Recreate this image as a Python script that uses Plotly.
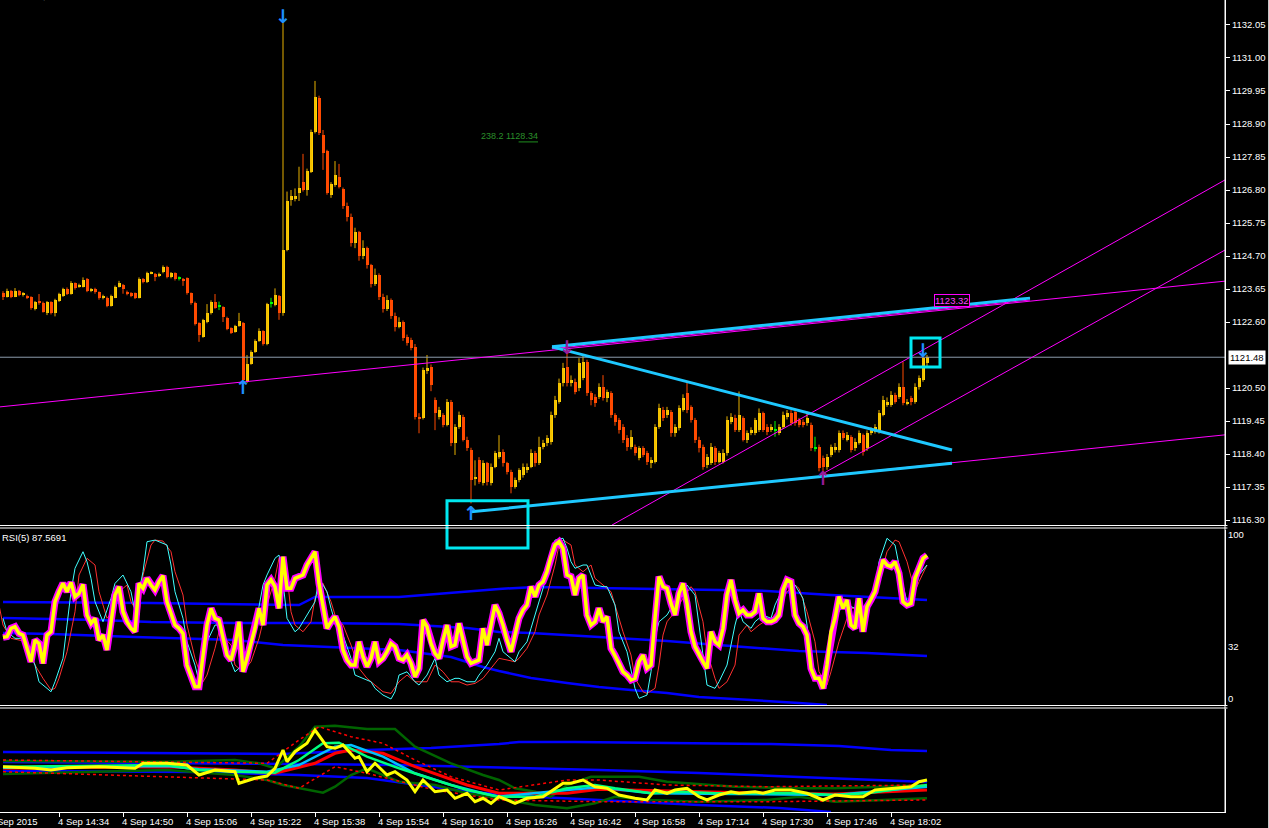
import plotly.graph_objects as go

# ---------------- price data (GOLD M1, bar index 0 = 14:20) ----------------
opens = [1123.51,1123.41,1123.59,1123.41,1123.59,1123.46,1123.44,1123.39,1123.02,1123.28,
 1123.22,1122.88,1123.23,1122.90,1123.28,1123.43,1123.65,1123.49,1123.83,1123.73,
 1123.72,1123.97,1123.60,1123.65,1123.54,1123.35,1123.38,1123.12,1123.38,1123.72,
 1123.78,1123.57,1123.51,1123.51,1123.38,1123.97,1123.86,1124.15,1124.13,1124.06,
 1124.20,1124.36,1124.02,1124.15,1123.97,1123.97,1123.99,1123.51,1123.22,1122.56,
 1122.13,1122.61,1122.88,1123.25,1123.09,1123.07,1122.74,1122.40,1122.29,1122.48,
 1122.56,1120.70,1121.28,1121.66,1122.01,1122.31,1121.90,1123.19,1123.14,1123.43,
 1122.88,1124.90,1126.48,1126.50,1126.69,1127.07,1126.80,1127.38,1128.66,1129.72,
 1128.55,1128.04,1126.64,1126.96,1127.20,1126.83,1126.30,1125.95,1125.10,1125.45,
 1124.70,1124.95,1124.40,1123.80,1124.10,1123.40,1123.00,1123.30,1122.80,1122.45,
 1122.60,1122.13,1122.03,1121.82,1119.59,1119.54,1121.07,1121.18,1120.12,1119.59,
 1119.64,1119.32,1120.07,1118.74,1119.27,1119.59,1118.85,1118.53,1117.63,1118.21,
 1117.47,1118.10,1117.47,1118.00,1118.32,1118.48,1118.10,1117.84,1117.36,1117.57,
 1117.73,1117.89,1118.00,1118.42,1118.10,1118.63,1118.74,1118.79,1119.64,1120.07,
 1120.65,1121.18,1120.65,1120.70,1120.49,1120.81,1121.34,1120.33,1120.23,1120.23,
 1120.54,1120.17,1120.33,1119.64,1119.48,1119.27,1118.90,1118.63,1118.63,1118.26,
 1118.58,1118.42,1118.10,1118.16,1119.27,1119.80,1119.64,1119.75,1119.06,1119.22,
 1119.80,1120.33,1119.91,1119.48,1118.85,1118.63,1118.05,1118.10,1118.58,1118.16,
 1118.16,1118.42,1119.43,1119.54,1119.16,1119.54,1118.85,1119.06,1119.06,1119.16,
 1119.70,1119.27,1119.16,1119.16,1119.06,1119.27,1119.59,1119.70,1119.75,1119.48,
 1119.43,1119.38,1119.32,1118.58,1118.63,1118.26,1118.00,1118.37,1118.53,1118.53,
 1119.06,1118.85,1118.95,1118.58,1118.74,1119.00,1118.58,1119.06,1119.11,1119.11,
 1119.64,1119.96,1119.96,1120.28,1120.23,1120.54,1120.01,1120.17,1120.07,1120.54,
 1120.76,1121.29]
closes = [1123.41,1123.59,1123.41,1123.59,1123.46,1123.48,1123.37,1123.04,1123.23,1123.19,
 1122.93,1123.23,1122.88,1123.30,1123.49,1123.64,1123.49,1123.83,1123.67,1123.77,
 1123.94,1123.60,1123.61,1123.54,1123.35,1123.43,1123.12,1123.43,1123.72,1123.83,
 1123.64,1123.49,1123.43,1123.37,1123.97,1123.86,1124.15,1124.17,1124.02,1124.13,
 1124.36,1124.02,1124.15,1123.96,1123.97,1123.92,1123.51,1123.22,1122.53,1122.19,
 1122.66,1122.88,1123.25,1123.06,1123.09,1122.77,1122.38,1122.26,1122.47,1122.63,
 1120.76,1121.28,1121.66,1122.01,1122.31,1121.89,1123.17,1123.19,1123.46,1122.88,
 1124.90,1126.45,1126.61,1126.61,1126.85,1126.80,1127.42,1128.66,1129.77,1128.60,
 1127.97,1126.72,1126.99,1127.28,1126.91,1126.30,1125.95,1125.10,1125.45,1124.70,
 1124.95,1124.40,1123.80,1124.10,1123.40,1123.00,1123.30,1122.80,1122.45,1122.60,
 1122.08,1121.92,1121.76,1119.59,1119.54,1121.07,1121.13,1120.60,1119.70,1119.80,
 1119.32,1120.07,1118.74,1119.27,1119.64,1118.85,1118.58,1117.57,1117.68,1117.52,
 1118.10,1117.52,1118.00,1118.42,1118.48,1118.10,1117.84,1117.36,1117.57,1117.89,
 1118.00,1118.00,1118.42,1118.10,1118.63,1118.74,1118.90,1119.64,1120.12,1120.65,
 1121.13,1120.65,1120.76,1120.38,1121.29,1121.34,1120.33,1120.12,1120.01,1120.54,
 1120.17,1120.38,1119.64,1119.43,1119.16,1118.85,1118.63,1118.95,1118.42,1118.58,
 1118.37,1118.16,1118.21,1119.27,1119.85,1119.54,1119.80,1119.06,1119.27,1119.85,
 1120.17,1119.80,1119.48,1118.85,1118.58,1118.00,1118.32,1118.63,1118.16,1118.42,
 1118.42,1119.48,1119.59,1119.16,1119.64,1118.85,1119.06,1119.16,1119.48,1119.70,
 1119.16,1119.11,1119.27,1119.16,1119.27,1119.64,1119.70,1119.38,1119.38,1119.32,
 1119.32,1119.54,1118.58,1118.58,1117.94,1118.00,1118.32,1118.63,1118.63,1119.06,
 1118.90,1119.00,1118.53,1118.79,1119.06,1118.47,1119.06,1119.16,1119.27,1119.70,
 1120.12,1120.07,1120.28,1120.07,1120.54,1120.01,1120.07,1120.07,1120.54,1120.81,
 1121.44,1121.48]
highs = [1123.58,1123.66,1123.62,1123.68,1123.62,1123.55,1123.47,1123.42,1123.27,1123.49,
 1123.25,1123.27,1123.26,1123.34,1123.53,1123.69,1123.70,1123.90,1123.86,1123.82,
 1124.02,1124.00,1123.68,1123.69,1123.57,1123.47,1123.41,1123.47,1123.76,1123.91,
 1123.81,1123.60,1123.55,1123.54,1124.02,1124.00,1124.20,1124.21,1124.16,1124.17,
 1124.40,1124.39,1124.19,1124.18,1124.05,1124.00,1124.02,1123.54,1123.25,1122.59,
 1122.70,1123.17,1123.29,1123.49,1123.25,1123.10,1122.77,1122.43,1122.51,1122.89,
 1122.60,1121.55,1121.70,1122.05,1122.40,1122.34,1123.21,1123.37,1123.67,1123.46,
 1132.15,1126.75,1126.80,1126.85,1127.54,1127.95,1127.48,1128.72,1130.27,1129.80,
 1128.71,1128.08,1127.05,1127.72,1127.63,1126.88,1126.40,1126.05,1125.60,1125.50,
 1125.20,1125.00,1124.45,1124.30,1124.15,1123.50,1123.45,1123.35,1122.90,1122.75,
 1122.65,1122.20,1122.10,1121.90,1119.70,1121.15,1121.55,1121.25,1120.20,1119.90,
 1119.70,1120.15,1120.12,1119.35,1119.75,1119.65,1118.95,1118.60,1118.20,1118.30,
 1118.20,1118.15,1118.10,1118.50,1119.00,1118.55,1118.15,1117.90,1117.65,1117.95,
 1118.10,1118.10,1118.55,1118.50,1118.95,1118.85,1119.00,1119.75,1120.25,1120.80,
 1121.30,1121.81,1120.90,1120.80,1121.45,1121.55,1121.40,1120.40,1120.30,1120.65,
 1120.91,1120.45,1120.40,1119.70,1119.55,1119.35,1119.00,1119.16,1118.70,1118.65,
 1118.65,1118.50,1118.30,1119.35,1120.00,1119.90,1119.90,1119.80,1119.35,1119.95,
 1120.30,1120.70,1119.95,1119.55,1118.95,1118.70,1118.40,1118.75,1118.65,1118.50,
 1118.55,1119.60,1119.70,1119.65,1120.39,1119.60,1119.15,1119.25,1119.55,1119.85,
 1119.75,1119.35,1119.35,1119.45,1119.35,1119.75,1119.80,1119.80,1119.80,1119.55,
 1119.50,1119.75,1119.40,1118.95,1118.70,1118.35,1118.40,1118.70,1118.75,1119.15,
 1119.15,1119.10,1119.00,1118.90,1119.15,1119.05,1119.15,1119.25,1119.35,1119.80,
 1120.25,1120.20,1120.40,1120.35,1120.65,1121.34,1120.15,1120.25,1120.65,1120.90,
 1121.71,1121.55]
lows = [1123.30,1123.38,1123.36,1123.39,1123.42,1123.41,1123.33,1122.99,1122.97,1123.15,
 1122.90,1122.82,1122.84,1122.78,1123.24,1123.40,1123.46,1123.47,1123.63,1123.69,
 1123.70,1123.55,1123.55,1123.50,1123.31,1123.32,1123.07,1123.09,1123.36,1123.70,
 1123.50,1123.45,1123.39,1123.33,1123.35,1123.83,1123.84,1124.12,1123.90,1124.03,
 1124.15,1123.99,1123.99,1123.92,1123.92,1123.75,1123.47,1123.15,1122.49,1121.97,
 1122.10,1122.56,1122.84,1123.02,1122.98,1122.60,1122.34,1122.22,1122.26,1122.45,
 1120.62,1120.66,1121.24,1121.62,1121.97,1121.85,1121.86,1123.06,1123.10,1122.67,
 1122.80,1124.85,1126.30,1126.44,1126.45,1126.75,1126.62,1127.34,1128.60,1128.55,
 1127.44,1126.65,1126.55,1126.90,1126.85,1126.20,1125.80,1125.00,1124.95,1124.55,
 1124.60,1124.30,1123.70,1123.75,1123.30,1122.90,1122.95,1122.70,1122.30,1122.40,
 1122.00,1121.85,1121.70,1119.50,1119.06,1119.50,1120.95,1120.40,1119.16,1119.50,
 1119.25,1119.28,1118.65,1118.37,1119.20,1118.80,1118.50,1116.83,1117.40,1117.45,
 1117.40,1117.40,1117.40,1117.95,1118.25,1118.00,1117.75,1117.15,1117.30,1117.50,
 1117.65,1117.80,1117.95,1118.00,1118.05,1118.55,1118.65,1118.70,1119.55,1120.00,
 1120.55,1120.55,1120.55,1120.30,1120.40,1120.75,1120.25,1119.95,1119.90,1120.15,
 1120.10,1120.05,1119.55,1119.30,1119.05,1118.75,1118.50,1118.55,1118.35,1118.20,
 1118.30,1118.05,1117.95,1118.10,1119.20,1119.45,1119.55,1118.95,1118.95,1119.15,
 1119.75,1119.70,1119.40,1118.75,1118.45,1117.90,1117.95,1118.05,1118.05,1118.10,
 1118.10,1118.35,1119.35,1119.10,1119.10,1118.80,1118.75,1119.00,1119.00,1119.10,
 1119.10,1119.00,1119.10,1118.95,1119.00,1119.20,1119.50,1119.30,1119.30,1119.25,
 1119.25,1119.30,1118.50,1118.48,1117.85,1117.68,1117.90,1118.30,1118.45,1118.45,
 1118.85,1118.80,1118.45,1118.50,1118.70,1118.35,1118.50,1119.00,1119.05,1119.05,
 1119.60,1119.90,1119.90,1120.00,1120.15,1119.95,1119.95,1119.95,1120.00,1120.45,
 1120.70,1121.20]

# time axis labels (bar index of each label)
tick_idx = [14, 30, 46, 62, 78, 94, 110, 126, 142, 158, 174, 190, 206, 222]
tick_txt = ["4 Sep 14:34", "4 Sep 14:50", "4 Sep 15:06", "4 Sep 15:22", "4 Sep 15:38",
            "4 Sep 15:54", "4 Sep 16:10", "4 Sep 16:26", "4 Sep 16:42", "4 Sep 16:58",
            "4 Sep 17:14", "4 Sep 17:30", "4 Sep 17:46", "4 Sep 18:02"]
price_ticks = [1132.05, 1131.00, 1129.95, 1128.90, 1127.85, 1126.80, 1125.75, 1124.70,
               1123.65, 1122.60, 1120.50, 1119.45, 1118.40, 1117.35, 1116.30]
last_price = 1121.48

# trend lines: (bar0, price0, bar1, price1)
magenta_long = [-0.75, 1119.90, 305.5, 1123.90]
magenta_low = [117.0, 1116.56, 305.5, 1119.01]
magenta_up = [137.25, 1121.75, 256.75, 1123.30]
magenta_steep_a = [152.25, 1116.14, 305.5, 1127.12]
magenta_steep_b = [204.75, 1117.76, 305.5, 1124.89]
cyan_up = [137.25, 1121.81, 256.75, 1123.36]
cyan_down = [137.25, 1121.81, 237.25, 1118.53]
cyan_low = [117.0, 1116.56, 237.25, 1118.11]
box1 = [111.0, 1116.91, 131.25, 1115.41]
box2 = [227.0, 1122.09, 234.25, 1121.17]

# arrows: (bar, price)
blue_down = [(70, 1132.33), (230, 1121.71)]
blue_up = [(60, 1120.53), (117, 1116.52)]
purple_down = [(141, 1121.81)]
purple_up = [(205, 1117.64)]

# ---------------- RSI(5) window ----------------
rsi_yellow = [37.6,38.0,43.1,44.1,40.0,39.0,30.9,22.7,36.0,33.9,21.7,39.0,41.0,59.3,65.4,70.5,65.4,71.1,62.4,64.4,
 69.9,51.2,46.1,49.2,35.9,39.0,29.9,45.1,63.4,68.5,53.2,47.1,43.1,41.0,70.5,67.5,73.6,69.5,66.5,71.5,
 75.2,59.3,52.2,45.1,43.1,40.0,20.7,13.6,7.5,7.5,26.8,45.1,55.3,49.2,48.2,38.0,26.8,23.8,32.9,47.1,
 16.6,24.8,33.9,43.1,55.3,45.1,69.5,72.6,68.5,55.3,86.8,67.5,67.5,73.6,74.6,75.6,81.7,85.8,89.8,70.5,
 57.3,43.1,47.1,50.2,44.1,29.9,23.8,20.7,20.7,34.9,25.8,19.7,24.8,34.9,22.7,24.8,28.8,33.9,31.9,24.8,
 23.8,26.8,21.7,13.6,18.7,48.2,44.1,33.9,27.8,24.8,35.9,45.1,31.9,32.9,46.1,35.9,25.8,21.7,22.7,23.8,
 43.1,32.9,45.1,57.3,52.2,45.1,35.9,28.8,39.0,49.2,54.3,57.3,68.5,62.4,69.5,71.5,77.6,86.8,93.9,95.9,
 91.9,75.6,74.6,63.4,73.6,75.6,51.2,45.1,47.1,55.3,47.1,50.2,30.9,26.8,21.7,16.6,14.6,11.6,12.6,22.7,
 26.8,18.7,20.7,49.2,74.6,68.5,67.5,58.3,51.2,64.4,70.5,58.3,41.0,31.9,26.8,22.7,18.7,41.0,34.9,32.9,
 43.1,63.4,72.6,60.4,52.2,54.3,51.2,51.2,53.2,64.4,49.2,47.1,47.1,48.2,51.2,66.5,72.6,71.5,51.2,46.1,
 44.1,39.0,18.7,12.6,12.6,6.5,20.7,41.0,49.2,62.4,55.3,60.4,45.1,43.1,61.4,41.0,56.3,60.4,65.4,75.6,
 84.8,81.7,80.7,83.7,76.6,59.3,57.3,58.3,73.6,79.7,85.8,87.57]

rsi_cyan_idx = [0,1,3,5,8,9,11,12,13,15,16,17,18,20,21,22,23,25,27,28,30,32,33,35,36,38,39,41,42,43,
 45,46,48,49,50,51,53,54,56,58,59,61,63,65,66,68,69,70,71,73,74,76,78,79,81,82,83,85,87,88,
 90,92,93,95,97,98,99,101,103,104,106,108,109,111,113,114,116,118,119,121,123,124,125,127,128,129,131,132,133,134,
 136,137,138,140,141,142,143,145,146,147,148,150,151,153,154,156,157,158,159,161,162,163,164,166,167,168,170,171,173,174,
 175,176,178,179,181,183,184,185,187,188,190,192,193,195,197,198,200,201,202,203,205,206,207,208,210,211,213,215,216,218,
 219,221,222,223,225,226,228,229,231]
rsi_cyan = [49.2,41.0,37.0,37.0,20.7,10.5,6.5,4.4,10.5,24.8,45.1,65.4,79.7,89.8,83.7,73.6,59.3,47.1,61.4,70.5,
 75.6,65.4,53.2,77.6,95.9,96.9,95.9,93.9,81.7,65.4,49.2,34.9,20.7,10.5,16.6,34.9,45.1,45.1,28.8,16.6,
 18.7,28.8,43.1,69.5,75.6,85.8,87.8,71.5,49.2,41.0,43.1,51.2,59.3,73.6,65.4,55.3,47.1,39.0,24.8,14.6,
 12.6,10.5,6.5,2.4,0.0,4.4,14.6,16.6,10.5,8.5,14.6,24.8,14.6,10.5,12.6,12.6,10.5,10.5,14.6,20.7,28.8,37.0,28.8,24.8,22.7,28.8,34.9,43.1,51.2,59.3,
 75.6,89.8,96.9,98.0,91.9,83.7,79.7,81.7,81.7,75.6,69.5,68.5,68.5,57.3,41.0,28.8,16.6,6.5,0.4,2.4,16.6,37.0,47.1,51.2,55.3,57.3,65.4,69.5,63.4,45.1,
 24.8,8.5,6.5,10.5,20.7,45.1,54.3,47.1,43.1,47.1,51.2,49.2,57.3,67.5,70.5,69.5,61.4,45.1,24.8,12.6,8.5,20.7,37.0,49.2,57.3,57.3,55.3,55.3,57.3,67.5,
 83.7,98.0,95.9,93.9,69.5,59.3,65.4,75.6,81.7]

rsi_red_idx = [-1,0,2,6,8,10,12,13,14,16,18,19,21,23,24,26,27,29,31,32,34,35,37,38,40,42,43,45,46,48,
 50,51,53,54,57,58,60,62,64,66,68,69,71,72,73,75,77,78,80,82,83,85,87,89,91,93,95,97,99,101,
 103,106,108,110,112,114,116,118,120,122,124,126,128,129,131,133,134,136,138,139,140,142,143,145,147,148,150,152,153,155,
 157,158,160,161,163,164,165,166,168,170,172,173,175,176,178,179,181,183,184,186,187,189,191,192,194,196,198,199,201,203,
 204,206,207,209,211,212,214,216,217,219,221,223,224,226,228,229,231]
rsi_red = [57.3,45.1,37.0,34.9,20.7,12.6,5.5,6.5,12.6,28.8,53.2,75.6,85.8,81.7,65.4,49.2,52.2,65.4,69.5,59.3,
 51.2,75.6,93.9,96.9,96.3,89.8,77.6,63.4,45.1,24.8,10.5,14.6,30.9,41.0,32.9,20.7,16.6,22.7,37.0,57.3,
 73.6,85.8,75.6,53.2,45.1,41.0,47.1,61.4,70.5,59.3,51.2,45.1,32.9,18.7,12.6,8.5,4.4,3.4,10.5,14.6,
 10.5,10.5,20.7,16.6,10.5,10.5,8.5,9.5,12.6,18.7,24.8,23.8,22.7,24.8,30.9,41.0,51.2,63.4,81.7,93.9,96.9,93.9,81.7,77.6,81.7,73.6,69.5,65.4,57.3,41.0,
 26.8,12.6,4.4,3.4,6.5,20.7,39.0,47.1,53.2,61.4,68.5,65.4,47.1,28.8,12.6,6.5,10.5,20.7,39.0,45.1,41.0,45.1,48.2,48.2,55.3,65.4,69.5,67.5,53.2,34.9,
 16.6,8.5,16.6,34.9,49.2,55.3,55.3,55.3,59.3,71.5,89.8,96.9,95.9,83.7,65.4,71.5,81.7]

rsi_blue1_idx = [0, 37, 74, 78, 99, 108, 116, 124, 133, 149, 174, 191, 207, 231]
rsi_blue1 = [59.1, 58.5, 57.3, 62.2, 62.2, 64.0, 65.2, 67.1, 68.3, 67.7, 66.5, 65.9, 63.4, 60.4]
rsi_blue2_idx = [0, 24, 37, 58, 78, 99, 116, 124, 132, 149, 166, 182, 199, 216, 231]
rsi_blue2 = [49.4, 48.2, 47.0, 46.3, 46.3, 45.7, 43.3, 40.9, 40.2, 37.8, 35.4, 32.3, 29.3, 28.0, 26.2]
rsi_blue3_idx = [0, 12, 33, 58, 70, 83, 99, 112, 120, 124, 132, 141, 149, 157, 166, 174, 187, 199, 206]
rsi_blue3 = [40.2, 39.6, 37.8, 36.0, 32.9, 31.7, 29.9, 25.6, 19.5, 17.1, 12.8, 9.8, 7.3, 5.5, 3.7, 1.2, -0.6, -2.4, -3.7]

# ---------------- lower indicator window (panel units 0..103) ----------------
low_yellow_idx = [0,8,12,16,24,33,35,41,46,49,53,58,59,63,66,68,70,71,73,76,78,81,83,85,88,89,91,93,96,98,
 101,103,105,108,111,113,116,118,120,122,124,128,131,135,140,142,145,148,151,154,158,161,163,166,168,171,174,176,179,182,
 184,188,190,193,197,201,205,208,212,215,218,223,227,229,231]
low_yellow = [45.3,43.7,42.0,44.3,45.3,43.7,48.7,48.7,47.0,37.0,42.0,40.3,28.7,33.7,36.0,43.7,62.0,50.3,60.3,68.7,
 82.0,65.3,63.7,67.0,53.7,55.3,40.3,48.7,37.0,40.3,32.0,20.3,32.0,20.3,22.0,13.7,18.7,10.3,13.7,8.7,
 15.3,8.7,13.7,15.3,28.7,28.7,32.0,25.3,23.7,17.0,13.7,12.0,22.0,18.7,22.0,23.7,15.3,12.0,17.0,20.3,
 18.7,20.3,18.7,22.0,22.0,18.7,12.0,17.0,15.3,15.3,22.0,23.7,25.3,30.3,32.0]
low_green_idx = [0,41,49,58,68,74,80,84,91,99,108,116,124,133,141,148,153,162,170,178,191,199,208,216,231]
low_green = [45.3,47.0,42.0,40.3,39.3,52.0,68.7,69.3,55.3,43.7,32.0,22.0,15.3,15.3,23.7,27.0,23.7,18.7,20.3,18.7,18.7,18.7,17.0,18.7,27.0]
low_sky_idx = [0,41,49,66,74,83,87,95,103,112,120,124,141,149,162,208,231]
low_sky = [44.3,46.0,42.7,40.3,47.0,65.3,67.0,55.3,38.7,27.0,18.7,15.3,22.0,24.7,18.7,17.0,25.3]
low_red_idx = [0,41,58,68,78,83,87,95,103,116,124,141,149,162,191,208,231]
low_red = [43.7,45.3,42.0,38.7,48.7,58.7,62.0,58.7,45.3,27.0,18.7,18.7,22.7,21.3,18.7,18.0,22.0]
low_dot_up_idx = [0,66,74,79,87,95,103,112,124,141,149,166,191,231]
low_dot_up = [52.0,48.7,72.0,85.3,75.3,68.7,52.0,35.3,22.0,32.0,32.0,27.0,25.3,27.0]
low_dot_dn_idx = [0,66,74,83,91,108,124,149,191,231]
low_dot_dn = [40.3,32.0,23.7,45.3,38.7,22.0,12.0,10.3,10.3,12.0]
low_dkgreen_up_idx = [0,41,58,64,68,74,78,83,91,98,103,112,120,124,128,133,137,141,147,159,166,183,199,208,220,231]
low_dkgreen_up = [51.0,50.3,52.0,48.7,43.7,65.3,85.3,86.3,83.0,83.0,65.3,48.7,37.0,32.0,23.7,20.3,15.3,27.0,35.3,35.3,30.3,25.3,23.7,23.7,25.3,27.0]
low_dkgreen_dn_idx = [0,24,41,58,66,70,78,80,83,87,91,95,99,108,116,124,133,141,148,153,162,174,191,199,208,220,231]
low_dkgreen_dn = [38.0,40.3,42.0,37.0,32.0,27.0,20.3,19.3,25.3,37.0,43.7,37.0,30.3,27.0,18.7,13.7,7.0,3.7,8.7,15.3,12.0,10.3,12.0,15.3,10.3,12.0,13.7]
low_blue1_idx = [0,40,70,91,107,124,129,143,165,192,209,216,222,231]
low_blue1 = [60,59,58,62,64,68,70,70,69,68,66,64,62,61]
low_blue2_idx = [0,49,74,99,124,129,149,174,199,219,231]
low_blue2 = [50,49,48,47,45,44,42,39,35,32,30]
low_blue3_idx = [0,49,74,91,104,117,134,149,174,194,207]
low_blue3 = [41,40,37,34,27,20,15,12,7,4,0]

# ---------------- geometry helpers ----------------
W, H = 1269, 828
PLOT_W = 1225.0
PLOT_H = 812.0
P_MIN, P_MAX = 1116.142, 1132.845
price_dom = [1 - 525 / PLOT_H, 1.0]
rsi_dom = [1 - 705 / PLOT_H, 1 - 530 / PLOT_H]
low_dom = [0.0, 1 - 709 / PLOT_H]
X_RANGE = [-0.75, 305.5]


def price_to_paper(p):
    return price_dom[0] + (p - P_MIN) / (P_MAX - P_MIN) * (price_dom[1] - price_dom[0])


def py(px):
    return 1 - px / PLOT_H


BULL, BEAR, DOJI = "#ffd000", "#ff4a00", "#00ff00"
FONT = "Liberation Sans, Arial, sans-serif"

fig = go.Figure()

# candle wicks
groups = {BULL: ([], []), BEAR: ([], []), DOJI: ([], [])}
body_base, body_h, body_col = [], [], []
idx = list(range(len(opens)))
for i, o, c, h, l in zip(idx, opens, closes, highs, lows):
    col = BULL if c > o else (BEAR if c < o else DOJI)
    gx, gy = groups[col]
    gx += [i, i, None]
    gy += [l, h, None]
    body_base.append(min(o, c))
    body_h.append(max(abs(c - o), 0.035))
    body_col.append(col)

wick_cols = {BULL: "#e6b000", BEAR: BEAR, DOJI: DOJI}
for col, (gx, gy) in groups.items():
    fig.add_trace(go.Scatter(x=gx, y=gy, mode="lines", line=dict(color=wick_cols[col], width=1),
                             xaxis="x", yaxis="y", hoverinfo="skip", showlegend=False))
fig.add_trace(go.Bar(x=idx, y=body_h, base=body_base, width=0.75,
                     marker=dict(color=body_col, line=dict(width=0)),
                     xaxis="x", yaxis="y", hoverinfo="skip", showlegend=False))


def line(xs, ys, color, width, yaxis, dash=None):
    fig.add_trace(go.Scatter(x=xs, y=ys, mode="lines",
                             line=dict(color=color, width=width, dash=dash),
                             xaxis="x", yaxis=yaxis, hoverinfo="skip", showlegend=False))


# RSI window traces
line(rsi_blue1_idx, rsi_blue1, "#0000ff", 2.5, "y2")
line(rsi_blue2_idx, rsi_blue2, "#0000ff", 2.5, "y2")
line(rsi_blue3_idx, rsi_blue3, "#0000ff", 2.5, "y2")
line(rsi_red_idx, rsi_red, "#ff3030", 1, "y2")
line(rsi_cyan_idx, rsi_cyan, "#40ffff", 1, "y2")
line(idx, rsi_yellow, "#ff00ff", 7, "y2")
line(idx, rsi_yellow, "#ffff00", 3.5, "y2")

# lower window traces
line(low_blue1_idx, low_blue1, "#0000ff", 2.5, "y3")
line(low_blue2_idx, low_blue2, "#0000ff", 2.5, "y3")
line(low_blue3_idx, low_blue3, "#0000ff", 2.5, "y3")
line(low_dkgreen_up_idx, low_dkgreen_up, "#006400", 2.5, "y3")
line(low_dkgreen_dn_idx, low_dkgreen_dn, "#006400", 2.5, "y3")
line(low_dot_up_idx, low_dot_up, "#ff0000", 1.5, "y3", "dot")
line(low_dot_dn_idx, low_dot_dn, "#ff0000", 1.5, "y3", "dot")
line(low_red_idx, low_red, "#ff0000", 3, "y3")
line(low_sky_idx, low_sky, "#00bfff", 2.5, "y3")
line(low_green_idx, low_green, "#00ff7f", 2.5, "y3")
line(low_yellow_idx, low_yellow, "#ffff00", 3, "y3")

shapes = []


def seg(coords, color, width):
    x0, y0, x1, y1 = coords
    shapes.append(dict(type="line", xref="x", yref="y", x0=x0, y0=y0, x1=x1, y1=y1,
                       line=dict(color=color, width=width)))


# current price line
seg([X_RANGE[0], last_price, X_RANGE[1], last_price], "#8c9cac", 1)
seg(magenta_long, "#ff00ff", 1)
seg(magenta_low, "#ff00ff", 1)
seg(magenta_up, "#ff00ff", 1)
seg(magenta_steep_a, "#ff00ff", 1)
seg(magenta_steep_b, "#ff00ff", 1)
seg(cyan_up, "#1ec8ff", 3)
seg(cyan_down, "#1ec8ff", 3)
seg(cyan_low, "#1ec8ff", 3)
# fib level stub
seg([128.9, 1128.33, 133.75, 1128.33], "#1f8f1f", 1)

# boxes
shapes.append(dict(type="rect", xref="x", yref="paper", x0=box1[0], x1=box1[2],
                   y0=price_to_paper(box1[1]), y1=price_to_paper(box1[3]),
                   line=dict(color="#00e8f0", width=3)))
shapes.append(dict(type="rect", xref="x", yref="y", x0=box2[0], x1=box2[2],
                   y0=box2[1], y1=box2[3], line=dict(color="#00e8f0", width=3)))

# window frames
for ypx in (525.5, 528.0, 705.5, 708.0):
    shapes.append(dict(type="line", xref="paper", yref="paper", x0=0, x1=1.002, y0=py(ypx), y1=py(ypx),
                       line=dict(color="white", width=1)))
shapes.append(dict(type="line", xref="paper", yref="paper", x0=1, x1=1, y0=0, y1=1,
                   line=dict(color="white", width=1)))
shapes.append(dict(type="line", xref="paper", yref="paper", x0=1268.5 / PLOT_W, x1=1268.5 / PLOT_W,
                   y0=-0.1, y1=1.1, line=dict(color="#c8c8c8", width=1)))

annotations = []
for t, lab in zip(tick_idx, tick_txt):
    annotations.append(dict(x=t, y=py(821), xref="x", yref="paper", text=lab, showarrow=False,
                            xanchor="left", yanchor="middle", xshift=-3,
                            font=dict(family=FONT, size=9.5, color="white")))
annotations.append(dict(x=-13 / PLOT_W, y=py(821), xref="paper", yref="paper", text="4 Sep 2015",
                        showarrow=False, xanchor="left", yanchor="middle",
                        font=dict(family=FONT, size=9.5, color="white")))

# arrows
ARROW_FONT = "DejaVu Sans"
for (b, p) in blue_down:
    annotations.append(dict(x=b, y=p, xref="x", yref="y", text="<b>↓</b>", showarrow=False,
                            font=dict(family=ARROW_FONT, size=19, color="#1e90ff")))
for (b, p) in blue_up:
    annotations.append(dict(x=b, y=p, xref="x", yref="y", text="<b>↑</b>", showarrow=False,
                            font=dict(family=ARROW_FONT, size=19, color="#1e90ff")))
for (b, p) in purple_down:
    annotations.append(dict(x=b, y=p, xref="x", yref="y", text="<b>↓</b>", showarrow=False,
                            font=dict(family=ARROW_FONT, size=19, color="#9a1a9a")))
for (b, p) in purple_up:
    annotations.append(dict(x=b, y=p, xref="x", yref="y", text="<b>↑</b>", showarrow=False,
                            font=dict(family=ARROW_FONT, size=19, color="#9a1a9a")))

# texts
annotations.append(dict(x=126.5, y=1128.52, xref="x", yref="y", text="238.2 1128.34", showarrow=False,
                        font=dict(family=FONT, size=9, color="#2a8f2a")))
annotations.append(dict(x=237.25, y=1123.30, xref="x", yref="y", text="1123.32", showarrow=False,
                        bgcolor="black", bordercolor="#ff00ff", borderwidth=1, borderpad=0,
                        font=dict(family=FONT, size=9.5, color="#ff40ff")))
annotations.append(dict(x=1 + 3 / PLOT_W, y=last_price, xref="paper", yref="y", text="1121.48",
                        showarrow=False, xanchor="left", bgcolor="white", borderpad=1,
                        font=dict(family=FONT, size=9.5, color="black")))
annotations.append(dict(x=0, y=py(537), xref="paper", yref="paper", text="RSI(5) 87.5691",
                        showarrow=False, xanchor="left", yanchor="middle",
                        font=dict(family=FONT, size=9.5, color="white")))
annotations.append(dict(x=0.002, y=py(-4), xref="paper", yref="paper", text="▼ GOLD,M1",
                        showarrow=False, xanchor="left", yanchor="middle",
                        font=dict(family=FONT, size=9.5, color="white")))

axis_common = dict(showgrid=False, zeroline=False, fixedrange=True)
fig.update_layout(
    width=W, height=H,
    margin=dict(l=0, r=W - PLOT_W, t=0, b=H - PLOT_H),
    paper_bgcolor="black", plot_bgcolor="black",
    showlegend=False, bargap=0,
    xaxis=dict(domain=[0, 1], range=X_RANGE, anchor="y3", showline=True, linecolor="white",
               ticks="outside", ticklen=4, tickcolor="white", tickvals=tick_idx,
               showticklabels=False, **axis_common),
    yaxis=dict(domain=price_dom, range=[P_MIN, P_MAX], anchor="x", side="right", showline=True,
               linecolor="white", ticks="outside", ticklen=4, tickcolor="white",
               tickvals=price_ticks, ticktext=[f"{v:.2f}" for v in price_ticks],
               tickfont=dict(family=FONT, size=9.5, color="white"), **axis_common),
    yaxis2=dict(domain=rsi_dom, range=[-3.66, 103.05], anchor="x", side="right", showline=True,
                linecolor="white", ticks="", tickvals=[0, 32, 100], ticktext=["0", "32", "100"],
                tickfont=dict(family=FONT, size=9.5, color="white"), **axis_common),
    yaxis3=dict(domain=low_dom, range=[0, 103], anchor="x", side="right", showline=True,
                linecolor="white", showticklabels=False, ticks="", **axis_common),
    shapes=shapes, annotations=annotations,
)

fig.write_html("out.html", config={"displayModeBar": False},
               post_script="document.body.style.margin='0';document.body.style.background='black';")
